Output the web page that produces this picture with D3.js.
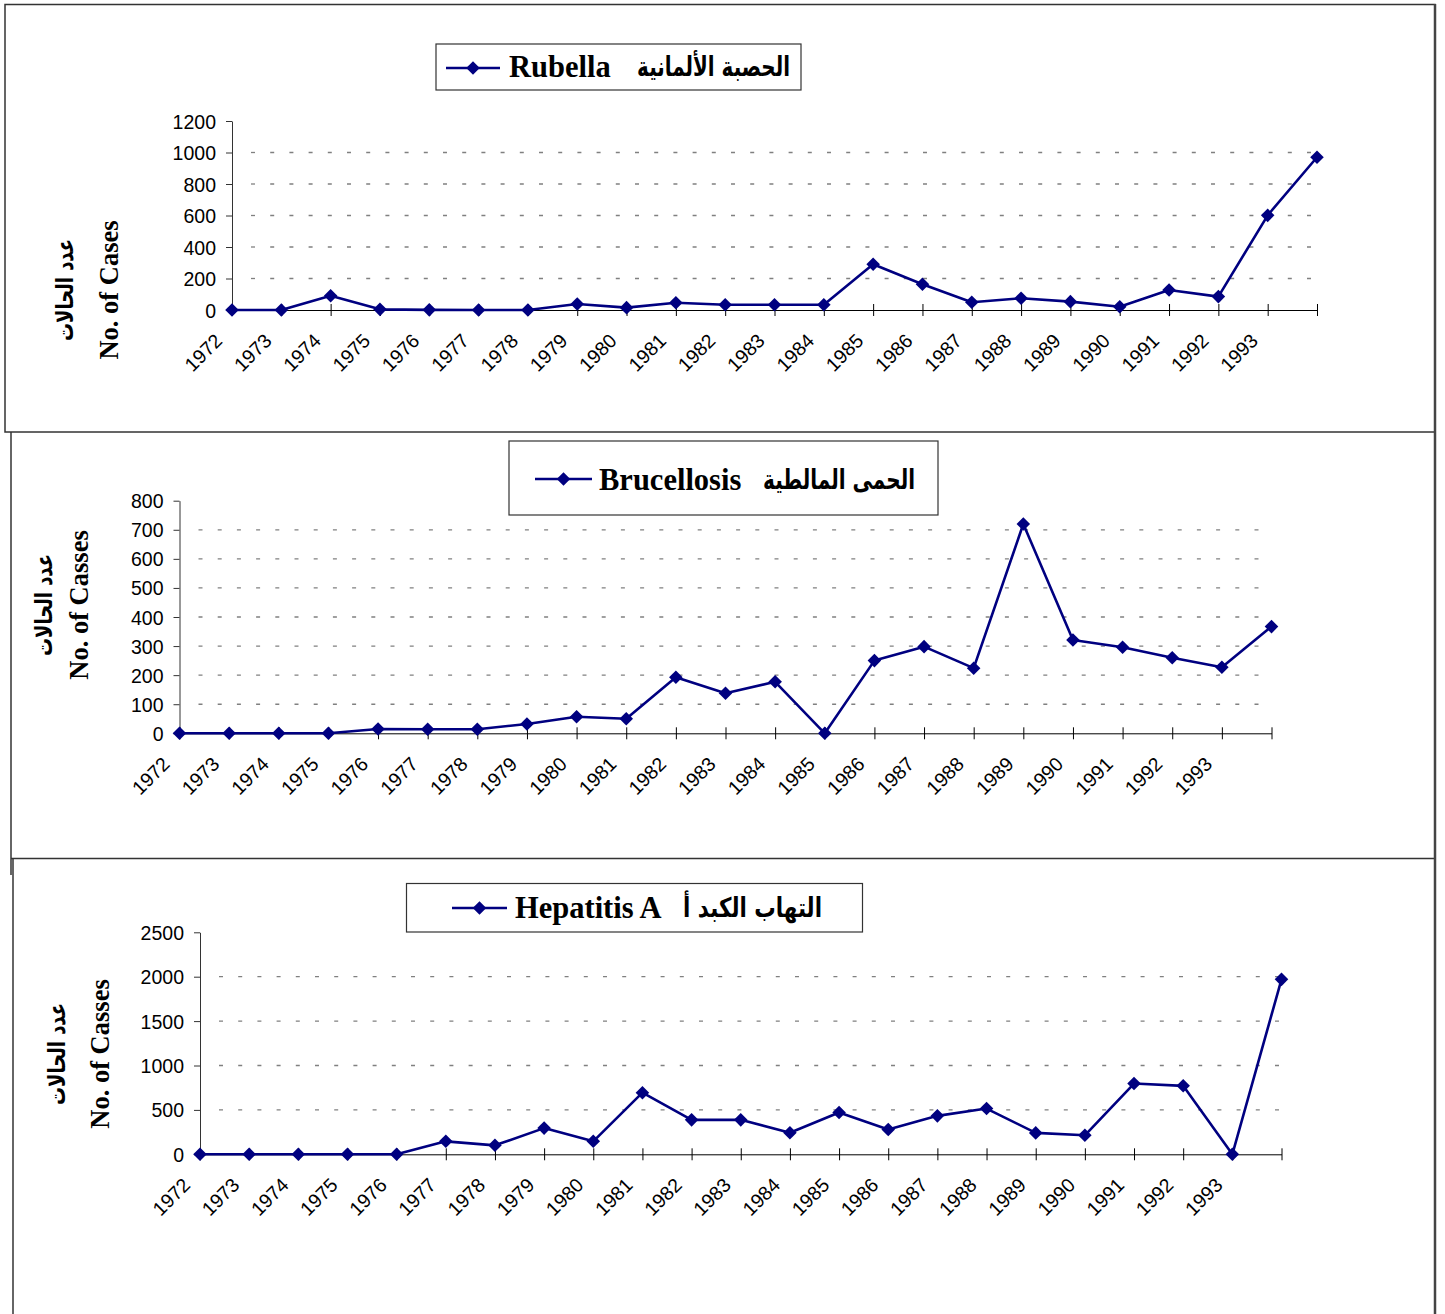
<!DOCTYPE html>
<html>
<head>
<meta charset="utf-8">
<script src="https://cdn.jsdelivr.net/npm/d3@7"></script>
<style>
  body { margin: 0; background: #fff; }
  svg { display: block; }
</style>
</head>
<body>
<svg id="chart" width="1445" height="1314"></svg>
<script>
// Year labels along the category axis (the final point carries no label)
const yearLabels = ["1972", "1973", "1974", "1975", "1976", "1977", "1978", "1979", "1980", "1981", "1982",
                    "1983", "1984", "1985", "1986", "1987", "1988", "1989", "1990", "1991", "1992", "1993"];

// Reported cases per point
const rubellaCases     = [0, 0, 90, 4, 1, 0, 0, 38, 15, 46, 33, 33, 33, 290, 163, 49, 75, 53, 21, 127, 85, 601, 970];
const brucellosisCases = [0, 0, 0, 0, 15, 14, 14, 32, 57, 50, 193, 138, 177, 0, 250, 298, 224, 720, 321, 296, 260, 227, 367];
const hepatitisACases  = [0, 0, 0, 0, 0, 146, 101, 295, 146, 694, 388, 388, 243, 470, 280, 433, 515, 241, 214, 797, 771, 0, 1970];

// Value-axis ticks
const rubellaTicks     = [0, 200, 400, 600, 800, 1000, 1200];
const brucellosisTicks = [0, 100, 200, 300, 400, 500, 600, 700, 800];
const hepatitisATicks  = [0, 500, 1000, 1500, 2000, 2500];

// Series names [Latin, Arabic]
const rubellaName     = ["Rubella", "الحصبة الألمانية"];
const brucellosisName = ["Brucellosis", "الحمى المالطية"];
const hepatitisAName  = ["Hepatitis A", "التهاب الكبد أ"];

// Value-axis titles [Arabic, Latin]
const rubellaTitle     = ["عدد الحالات", "No. of Cases"];
const brucellosisTitle = ["عدد الحالات", "No. of Casses"];
const hepatitisATitle  = ["عدد الحالات", "No. of Casses"];

const NAVY = "#000080";
const SANS = "'Liberation Sans', Arial, sans-serif";
const SERIF = "'Liberation Serif', 'Times New Roman', serif";
const ARABIC = "'DejaVu Sans', sans-serif";

const svg = d3.select("#chart");

// Squeeze a text along its own baseline so that it spans the given width
function squeezeTo(sel, width, baseTransform) {
  const len = sel.node().getComputedTextLength();
  const k = len > 0 ? Math.min(1, width / len) : 1;
  sel.attr("transform", `${baseTransform} scale(${k.toFixed(4)},1)`);
  return sel;
}

// Panel frames
const frame = svg.append("g").attr("fill", "none").attr("stroke", "#333").attr("stroke-width", 1.5);
frame.append("rect").attr("x", 5).attr("y", 4.5).attr("width", 1430).attr("height", 427.5);
frame.append("path").attr("d", "M11,432V875");
frame.append("path").attr("d", "M11,858.5H1435");
frame.append("path").attr("d", "M13,858.5V1314");
frame.append("path").attr("d", "M1435,4V1314").attr("stroke", "#444").attr("stroke-width", 2.5);

const panels = [
  { cases: rubellaCases, ticks: rubellaTicks, name: rubellaName, title: rubellaTitle,
    x0: 232, x1: 1317, yBase: 310, yTop: 121,
    legend: { x: 436, y: 44, w: 365, h: 46, lineX0: 446, lineX1: 500, lineY: 68, textX: 509, base: 77, arRight: 790, arWidth: 153 },
    titleAr: 65, titleEn: 109, titleY: 290 },
  { cases: brucellosisCases, ticks: brucellosisTicks, name: brucellosisName, title: brucellosisTitle,
    x0: 179.5, x1: 1271.5, yBase: 733.3, yTop: 500.7,
    legend: { x: 509, y: 441, w: 429, h: 74, lineX0: 535, lineX1: 592, lineY: 479, textX: 599, base: 490, arRight: 915, arWidth: 152 },
    titleAr: 44, titleEn: 79, titleY: 605 },
  { cases: hepatitisACases, ticks: hepatitisATicks, name: hepatitisAName, title: hepatitisATitle,
    x0: 200, x1: 1281.5, yBase: 1154.3, yTop: 932.3,
    legend: { x: 406.5, y: 883.5, w: 456, h: 48.5, lineX0: 452, lineX1: 507, lineY: 908, textX: 515, base: 918, arRight: 822, arWidth: 139 },
    titleAr: 57, titleEn: 100, titleY: 1054 }
];

const diamond = d3.symbol().type(d3.symbolSquare).size(92);

panels.forEach(p => {
  const g = svg.append("g");
  const x = d3.scalePoint().domain(d3.range(p.cases.length)).range([p.x0, p.x1]).padding(0);
  const y = d3.scaleLinear().domain([0, d3.max(p.ticks)]).range([p.yBase, p.yTop]);

  // Dashed horizontal gridlines (none at the axis floor or at the top tick)
  g.append("g").selectAll("line")
    .data(p.ticks.slice(1, -1))
    .join("line")
    .attr("x1", p.x0 + 19).attr("x2", p.x1)
    .attr("y1", d => y(d)).attr("y2", d => y(d))
    .attr("stroke", "#808080").attr("stroke-width", 1.3)
    .attr("stroke-dasharray", "4 15.2");

  // Value axis
  g.append("g")
    .attr("transform", `translate(${p.x0},0)`)
    .call(d3.axisLeft(y).tickValues(p.ticks).tickSizeInner(6).tickSizeOuter(0).tickPadding(10).tickFormat(d3.format("d")))
    .call(a => a.select(".domain").attr("stroke", "#333"))
    .call(a => a.selectAll(".tick line").attr("stroke", "#333"))
    .call(a => a.selectAll(".tick text").attr("font-family", SANS).attr("font-size", 19.5).attr("fill", "#000").attr("dy", "0.36em"));

  // Category axis with crossing tick marks and slanted year labels
  g.append("g")
    .attr("transform", `translate(0,${p.yBase})`)
    .call(d3.axisBottom(x).tickSizeInner(6).tickSizeOuter(0).tickPadding(0).tickFormat(i => yearLabels[i] ?? ""))
    .call(a => a.select(".domain").attr("stroke", "#000"))
    .call(a => a.selectAll(".tick line").attr("y1", -6).attr("stroke", "#000"))
    .call(a => a.selectAll(".tick text")
      .attr("y", null).attr("dy", null)
      .attr("text-anchor", "end")
      .attr("transform", "translate(-9,32) rotate(-45)")
      .attr("font-family", SANS).attr("font-size", 19.5).attr("fill", "#000"));

  // Series line and markers
  const line = d3.line().x((d, i) => x(i)).y(d => y(d));
  g.append("path").datum(p.cases)
    .attr("d", line).attr("fill", "none")
    .attr("stroke", NAVY).attr("stroke-width", 2.6).attr("stroke-linejoin", "round");
  g.append("g").selectAll("path")
    .data(p.cases)
    .join("path")
    .attr("d", diamond)
    .attr("transform", (d, i) => `translate(${x(i)},${y(d)}) rotate(45)`)
    .attr("fill", NAVY);

  // Legend
  const L = p.legend;
  const lg = g.append("g");
  lg.append("rect").attr("x", L.x).attr("y", L.y).attr("width", L.w).attr("height", L.h)
    .attr("fill", "#fff").attr("stroke", "#333").attr("stroke-width", 1.2);
  lg.append("line").attr("x1", L.lineX0).attr("x2", L.lineX1).attr("y1", L.lineY).attr("y2", L.lineY)
    .attr("stroke", NAVY).attr("stroke-width", 2.6);
  lg.append("path").attr("d", diamond)
    .attr("transform", `translate(${(L.lineX0 + L.lineX1) / 2},${L.lineY}) rotate(45)`)
    .attr("fill", NAVY);
  lg.append("text").attr("x", L.textX).attr("y", L.base)
    .attr("font-family", SERIF).attr("font-weight", "bold").attr("font-size", 30.5)
    .text(p.name[0]);
  lg.append("text")
    .attr("text-anchor", "end")
    .attr("font-family", ARABIC).attr("font-weight", "bold").attr("font-size", 27)
    .text(p.name[1])
    .call(s => squeezeTo(s, L.arWidth, `translate(${L.arRight},${L.base - 1})`));

  // Value-axis titles (rotated)
  g.append("text")
    .attr("text-anchor", "middle").attr("dominant-baseline", "central")
    .attr("font-family", ARABIC).attr("font-weight", "bold").attr("font-size", 24)
    .text(p.title[0])
    .call(s => squeezeTo(s, 102, `translate(${p.titleAr},${p.titleY}) rotate(-90)`));
  g.append("text")
    .attr("transform", `translate(${p.titleEn},${p.titleY}) rotate(-90)`)
    .attr("text-anchor", "middle").attr("dominant-baseline", "central")
    .attr("font-family", SERIF).attr("font-weight", "bold").attr("font-size", 26.5)
    .text(p.title[1]);
});
</script>
</body>
</html>
